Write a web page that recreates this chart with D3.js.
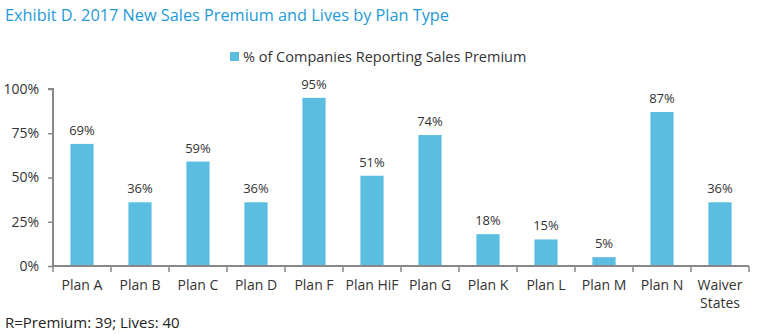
<!DOCTYPE html>
<html>
<head>
<meta charset="UTF-8">
<script src="https://cdn.jsdelivr.net/npm/d3@7"></script>
<style>
  body { margin: 0; padding: 0; background: #fff; }
  text { font-family: "Open Sans", sans-serif; }
</style>
</head>
<body>
<div id="chart"></div>
<script>
// chart data
const plans = ["Plan A", "Plan B", "Plan C", "Plan D", "Plan F", "Plan HiF", "Plan G", "Plan K", "Plan L", "Plan M", "Plan N", "Waiver States"];
const pctReporting = [69, 36, 59, 36, 95, 51, 74, 18, 15, 5, 87, 36];
const yTicks = [0, 25, 50, 75, 100];

const W = 760, H = 335;
const margin = { top: 89, right: 11, bottom: 69, left: 53 };
const width = W - margin.left - margin.right;
const height = H - margin.top - margin.bottom;

const svg = d3.select('#chart').append('svg')
    .attr('width', W).attr('height', H).style('display', 'block');

// title
svg.append('text')
    .attr('x', 5).attr('y', 21)
    .style('font-size', '16.3px')
    .style('fill', '#1f9ad6')
    .text('Exhibit D. 2017 New Sales Premium and Lives by Plan Type');

// legend
svg.append('rect')
    .attr('x', 230).attr('y', 52).attr('width', 9).attr('height', 9)
    .style('fill', '#5bbde0');
svg.append('text')
    .attr('x', 243).attr('y', 62)
    .style('font-size', '14.5px')
    .style('fill', '#333')
    .text('% of Companies Reporting Sales Premium');

const g = svg.append('g').attr('transform', `translate(${margin.left},${margin.top})`);

const x = d3.scaleBand().domain(plans).range([0, width]).paddingInner(0.6).paddingOuter(0.3);
const y = d3.scaleLinear().domain([0, 100]).range([height, 0]);

// bars
g.selectAll('.bar').data(plans).join('rect')
    .attr('class', 'bar')
    .attr('x', d => x(d))
    .attr('width', x.bandwidth())
    .attr('y', (d, i) => y(pctReporting[i]))
    .attr('height', (d, i) => height - y(pctReporting[i]))
    .style('fill', '#5bbde0');

// value labels
g.selectAll('.val').data(plans).join('text')
    .attr('class', 'val')
    .attr('x', d => x(d) + x.bandwidth() / 2)
    .attr('y', (d, i) => y(pctReporting[i]) - 9)
    .attr('text-anchor', 'middle')
    .style('font-size', '13px')
    .style('fill', '#333')
    .text((d, i) => pctReporting[i] + '%');

// y axis
const yAxis = g.append('g')
    .call(d3.axisLeft(y).tickValues(yTicks).tickFormat(d => d + '%').tickSize(5).tickPadding(9));
yAxis.select('.domain').attr('stroke', '#888').attr('stroke-width', 2).attr('d', `M-5,0H0V${height}`);
yAxis.selectAll('.tick line').attr('stroke', '#888').attr('stroke-width', 1.5);
yAxis.selectAll('.tick text').style('font-size', '14px').style('fill', '#333')
    .style('font-family', '"Open Sans", sans-serif');

// x axis with ticks at band boundaries
const xAxis = g.append('g').attr('transform', `translate(0,${height})`);
xAxis.append('line')
    .attr('x1', 0).attr('x2', width).attr('y1', 0).attr('y2', 0)
    .attr('stroke', '#888').attr('stroke-width', 2);
const bounds = d3.range(plans.length + 1).map(i => i * x.step());
xAxis.selectAll('.xt').data(bounds).join('line')
    .attr('x1', d => d).attr('x2', d => d)
    .attr('y1', 0).attr('y2', 6)
    .attr('stroke', '#888').attr('stroke-width', 1.5);

const labels = xAxis.selectAll('.xl').data(plans).join('text')
    .attr('class', 'xl')
    .attr('text-anchor', 'middle')
    .attr('transform', d => `translate(${x(d) + x.bandwidth() / 2},24)`)
    .style('font-size', '14px')
    .style('fill', '#333');
labels.each(function(d) {
    const words = d === 'Waiver States' ? ['Waiver', 'States'] : [d];
    d3.select(this).selectAll('tspan').data(words).join('tspan')
        .attr('x', 0).attr('dy', (w, i) => i === 0 ? 0 : 18)
        .text(w => w);
});

// footnote
svg.append('text')
    .attr('x', 5).attr('y', 328)
    .style('font-size', '15px')
    .style('fill', '#222')
    .text('R=Premium: 39; Lives: 40');
</script>
</body>
</html>
